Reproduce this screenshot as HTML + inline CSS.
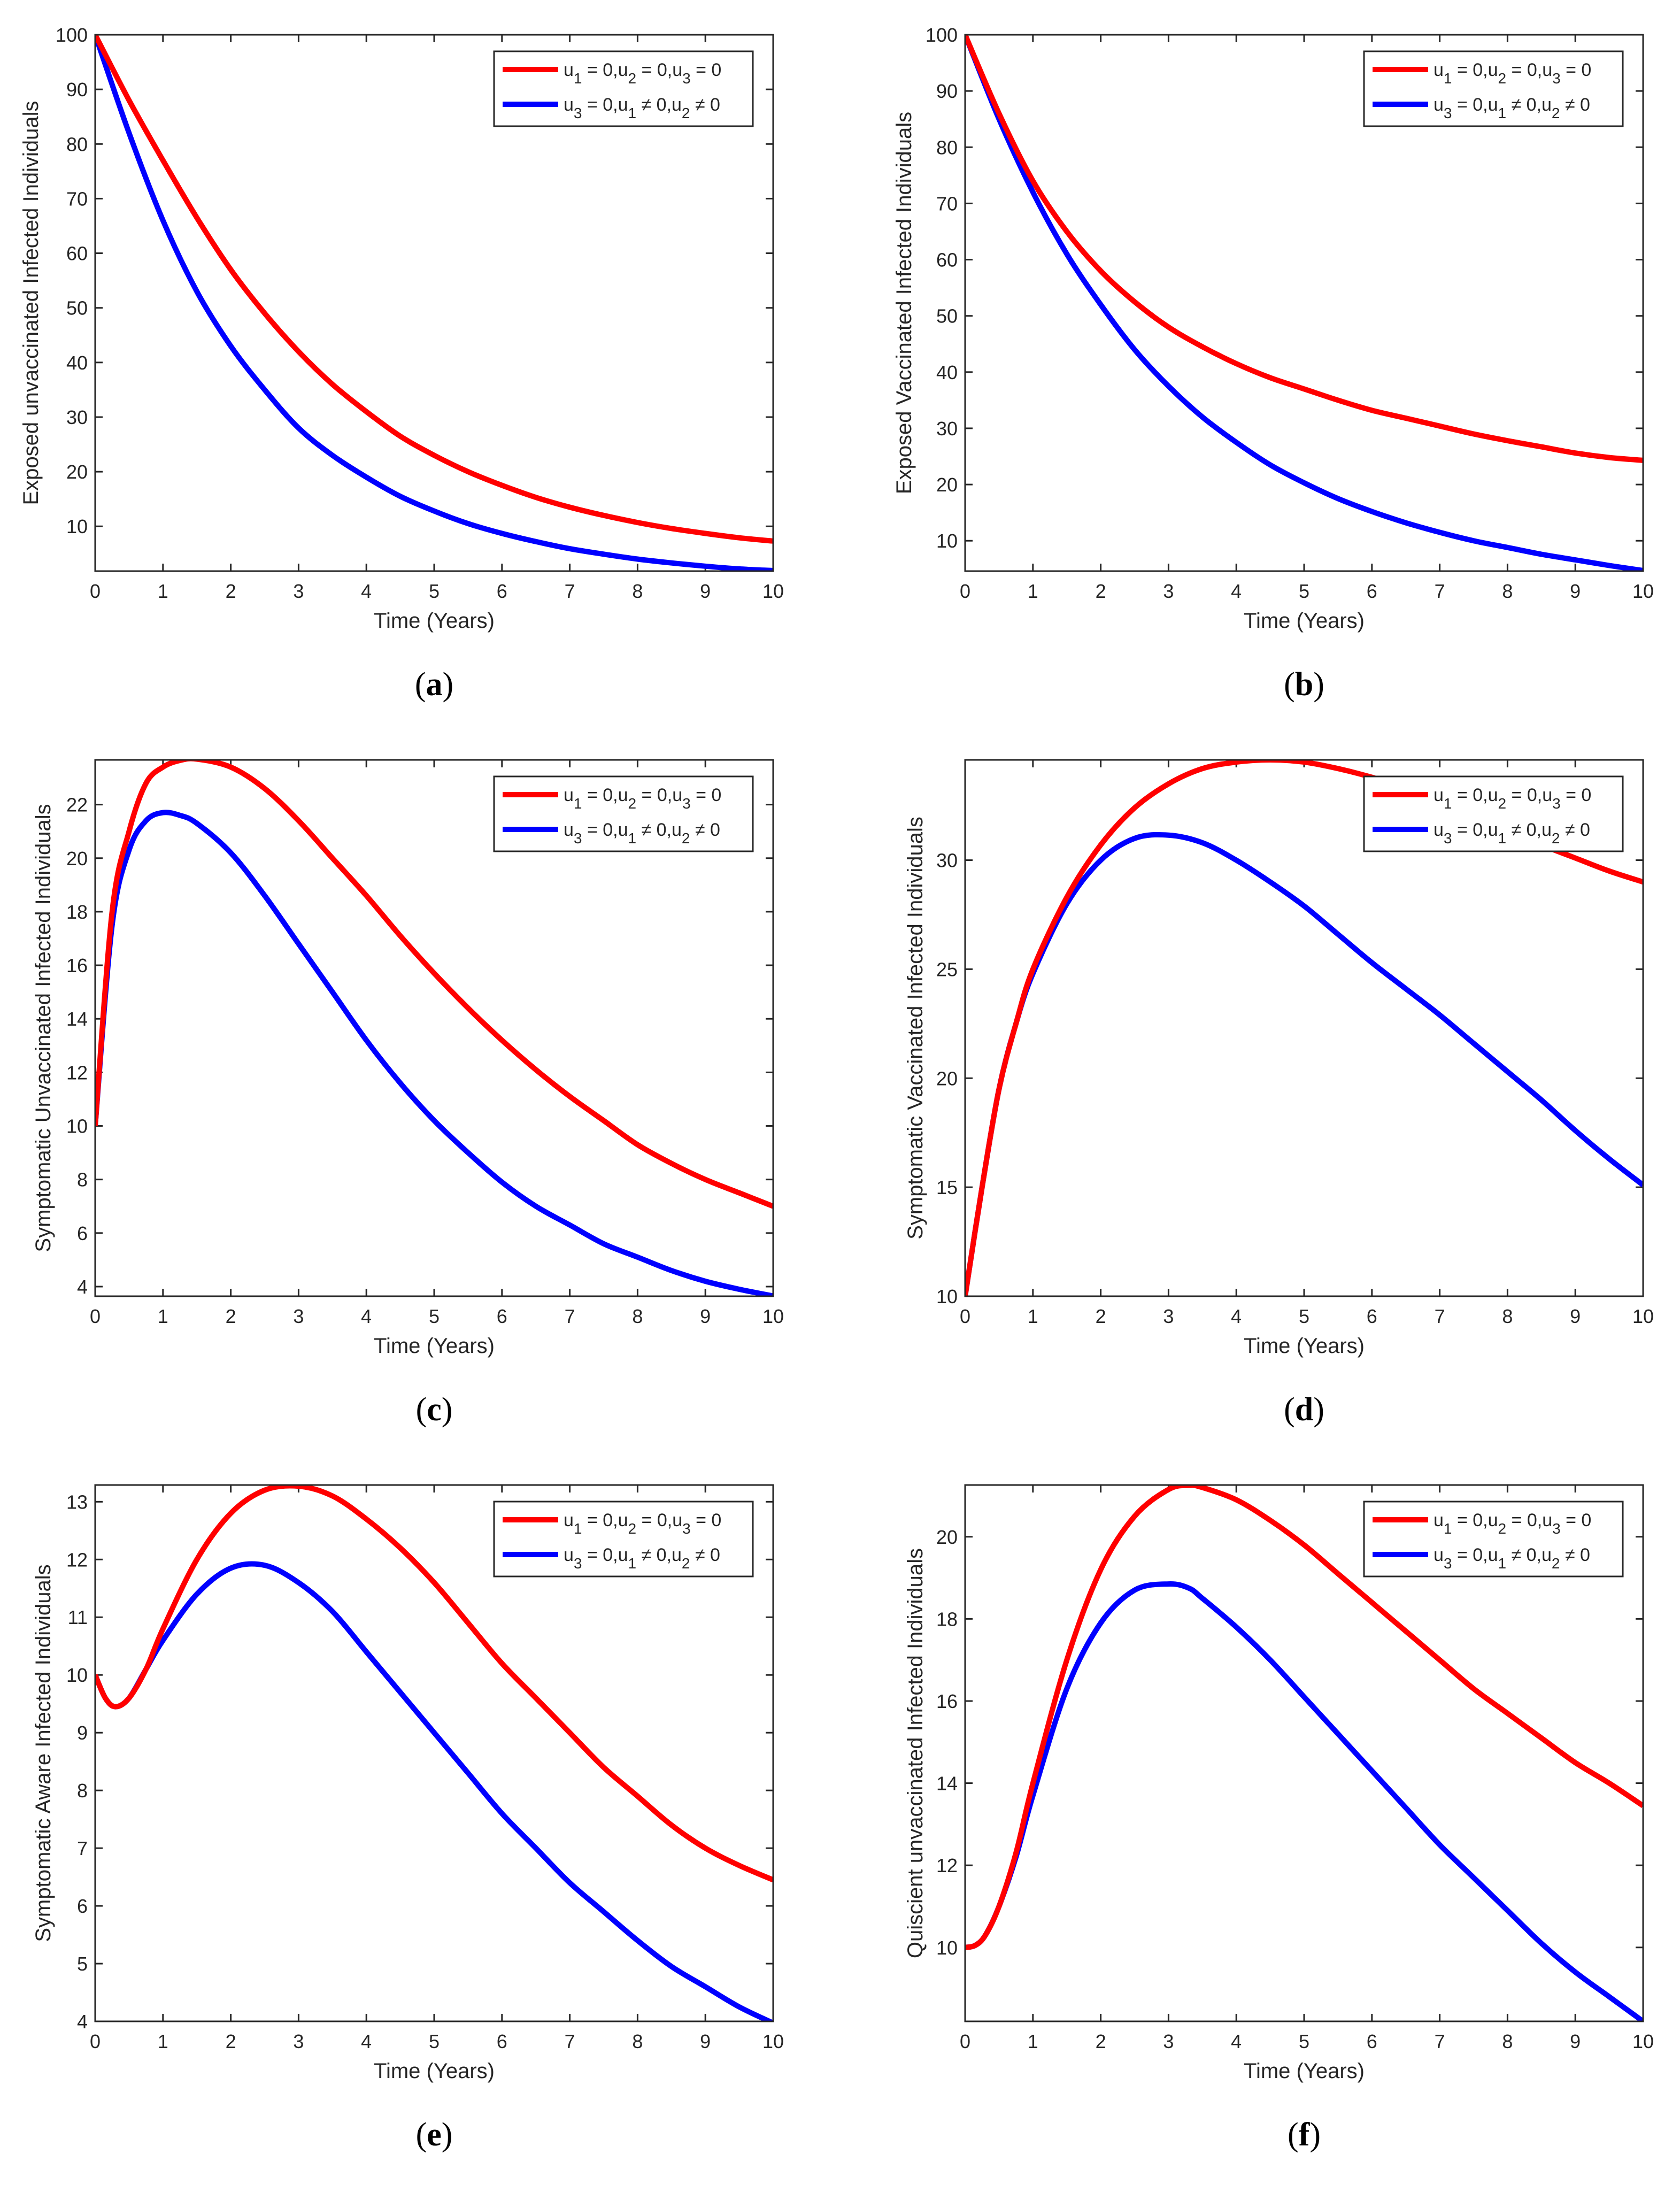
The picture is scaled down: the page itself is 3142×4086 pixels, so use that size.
<!DOCTYPE html>
<html><head><meta charset="utf-8">
<style>
html,body{margin:0;padding:0;background:#fff;}
svg{display:block;}
text{font-family:"Liberation Sans",sans-serif;fill:#262626;}
.cap{font-family:"Liberation Serif",serif;fill:#000;}
</style></head>
<body>
<svg id="fig" width="3142" height="4086" viewBox="0 0 3142 4086" xmlns="http://www.w3.org/2000/svg"></svg>
<script>
// ---- data ----
const tA = [0,0.5,1,1.5,2,2.5,3,3.5,4,4.5,5,5.5,6,6.5,7,7.5,8,8.5,9,9.5,10];
const aRed = [100,88,77,66.5,57,49,42,36,31,26.5,23,20,17.5,15.3,13.5,12,10.7,9.6,8.7,7.9,7.3];
const aBlue = [100,82,66,53,43,35,28,23,19,15.5,12.8,10.5,8.7,7.2,5.9,4.9,4.0,3.3,2.7,2.2,1.9];
const bRed = [100,86,74,65,58,52.5,48,44.5,41.5,39,37,35,33.2,31.8,30.4,29,27.8,26.7,25.6,24.8,24.3];
const bBlue = [100,85,72,61,52,44,37.5,32,27.5,23.5,20.3,17.5,15.2,13.2,11.5,10,8.8,7.6,6.6,5.6,4.7];
const tC = [0,0.25,0.5,0.75,1,1.25,1.5,2,2.5,3,3.5,4,4.5,5,5.5,6,6.5,7,7.5,8,8.5,9,9.5,10];
const cRed = [10,18,21,22.8,23.4,23.65,23.7,23.4,22.6,21.4,20,18.6,17.1,15.7,14.4,13.2,12.1,11.1,10.2,9.3,8.6,8,7.5,7.0];
const cBlue = [10,17.5,20.3,21.4,21.7,21.6,21.3,20.2,18.6,16.8,15,13.2,11.6,10.2,9,7.9,7,6.3,5.6,5.1,4.6,4.2,3.9,3.65];
const tD = [0,0.25,0.5,0.75,1,1.5,2,2.5,3,3.5,4,4.5,5,5.5,6,6.5,7,7.5,8,8.5,9,9.5,10];
const dRed = [10,15,19.5,22.5,25,28.3,30.7,32.4,33.5,34.2,34.5,34.6,34.5,34.2,33.8,33.3,32.7,32.1,31.4,30.7,30.1,29.5,29];
const dBlue = [10,15,19.5,22.5,24.8,28,30,31,31.15,30.8,30,29,27.9,26.6,25.3,24.1,22.9,21.6,20.3,19,17.6,16.3,15.1];
const tE = [0,0.15,0.3,0.5,0.75,1,1.5,2,2.5,3,3.5,4,4.5,5,5.5,6,6.5,7,7.5,8,8.5,9,9.5,10];
const eRed = [10,9.6,9.45,9.6,10.1,10.8,12,12.8,13.2,13.27,13.1,12.7,12.2,11.6,10.9,10.2,9.6,9,8.4,7.9,7.4,7,6.7,6.45];
const eBlue = [10,9.6,9.45,9.6,10.1,10.6,11.4,11.85,11.9,11.6,11.1,10.4,9.7,9,8.3,7.6,7,6.4,5.9,5.4,4.95,4.6,4.25,3.97];
const tF = [0,0.15,0.3,0.5,0.75,1,1.5,2,2.5,3,3.3,3.5,4,4.5,5,5.5,6,6.5,7,7.5,8,8.5,9,9.5,10];
const fRed = [10,10.05,10.3,11,12.3,14,17,19.2,20.5,21.15,21.25,21.2,20.9,20.4,19.8,19.1,18.4,17.7,17,16.3,15.7,15.1,14.5,14,13.45];
const fBlue = [10,10.05,10.3,11,12.2,13.7,16.3,17.9,18.7,18.85,18.75,18.5,17.8,17,16.1,15.2,14.3,13.4,12.5,11.7,10.9,10.1,9.4,8.8,8.2];
const xTicks = [0,1,2,3,4,5,6,7,8,9,10];
const aTicks = [10,20,30,40,50,60,70,80,90,100];
const bTicks = [10,20,30,40,50,60,70,80,90,100];
const cTicks = [4,6,8,10,12,14,16,18,20,22];
const dTicks = [10,15,20,25,30];
const eTicks = [4,5,6,7,8,9,10,11,12,13];
const fTicks = [10,12,14,16,18,20];

const NS = "http://www.w3.org/2000/svg";
const svg = document.getElementById('fig');
function mk(tag, attrs, parent, txt){
  const e = document.createElementNS(NS, tag);
  for (const k in attrs) e.setAttribute(k, attrs[k]);
  if (txt !== undefined) e.textContent = txt;
  (parent||svg).appendChild(e);
  return e;
}
function smooth(pts){
  let d = 'M' + pts[0][0].toFixed(1) + ',' + pts[0][1].toFixed(1);
  for (let i = 0; i < pts.length - 1; i++) {
    const p0 = pts[Math.max(0,i-1)], p1 = pts[i], p2 = pts[i+1], p3 = pts[Math.min(pts.length-1,i+2)];
    const c1x = p1[0] + (p2[0]-p0[0])/6, c1y = p1[1] + (p2[1]-p0[1])/6;
    const c2x = p2[0] - (p3[0]-p1[0])/6, c2y = p2[1] - (p3[1]-p1[1])/6;
    d += ' C' + c1x.toFixed(1)+','+c1y.toFixed(1)+' '+c2x.toFixed(1)+','+c2y.toFixed(1)+' '+p2[0].toFixed(1)+','+p2[1].toFixed(1);
  }
  return d;
}
const panels = [
  {id:'a', x0:178, y0:65, ymin:1.8, ymax:100, ticks:aTicks, t:tA, r:aRed, b:aBlue, title:'Exposed unvaccinated Infected Individuals', tx:57},
  {id:'b', x0:1805, y0:65, ymin:4.6, ymax:100, ticks:bTicks, t:tA, r:bRed, b:bBlue, title:'Exposed Vaccinated Infected Individuals', tx:1690},
  {id:'c', x0:178, y0:1421, ymin:3.64, ymax:23.67, ticks:cTicks, t:tC, r:cRed, b:cBlue, title:'Symptomatic Unvaccinated Infected Individuals', tx:80},
  {id:'d', x0:1805, y0:1421, ymin:10, ymax:34.6, ticks:dTicks, t:tD, r:dRed, b:dBlue, title:'Symptomatic Vaccinated Infected Individuals', tx:1711},
  {id:'e', x0:178, y0:2777, ymin:4, ymax:13.29, ticks:eTicks, t:tE, r:eRed, b:eBlue, title:'Symptomatic Aware Infected Individuals', tx:80},
  {id:'f', x0:1805, y0:2777, ymin:8.2, ymax:21.26, ticks:fTicks, t:tF, r:fRed, b:fBlue, title:'Quiscient unvaccinated Infected Individuals', tx:1711}
];
const W = 1268, H = 1003;
panels.forEach(p => {
  const g = mk('g', {});
  
  
  const sx = v => p.x0 + v / 10 * W;
  const sy = v => p.y0 + H - (v - p.ymin) / (p.ymax - p.ymin) * H;
  const clip = mk('clipPath', {id:'clip'+p.id}, g);
  mk('rect', {x:p.x0, y:p.y0, width:W, height:H}, clip);
  xTicks.forEach(v => {
    const x = sx(v);
    mk('line', {x1:x, x2:x, y1:p.y0+H, y2:p.y0+H-14, stroke:'#262626', 'stroke-width':3}, g);
    mk('line', {x1:x, x2:x, y1:p.y0, y2:p.y0+14, stroke:'#262626', 'stroke-width':3}, g);
    const t = mk('text', {x:x, y:p.y0+H+50, 'font-size':36, 'text-anchor':'middle'}, g, String(v));
    
    
  });
  p.ticks.forEach(v => {
    const y = sy(v);
    mk('line', {x1:p.x0, x2:p.x0+14, y1:y, y2:y, stroke:'#262626', 'stroke-width':3}, g);
    mk('line', {x1:p.x0+W, x2:p.x0+W-14, y1:y, y2:y, stroke:'#262626', 'stroke-width':3}, g);
    const t = mk('text', {x:p.x0-14, y:y+13, 'font-size':36, 'text-anchor':'end'}, g, String(v));
    
    
  });
  [[p.b,'#0000ff','blue-series'],[p.r,'#ff0000','red-series']].forEach(([vals,col,name]) => {
    const pts = vals.map((v,i) => [sx(p.t[i]), sy(v)]);
    const path = mk('path', {d:smooth(pts), fill:'none', stroke:col, 'stroke-width':10, 'stroke-linejoin':'round', 'clip-path':'url(#clip'+p.id+')'}, g);
    
    
  });
  mk('rect', {x:p.x0, y:p.y0, width:W, height:H, fill:'none', stroke:'#262626', 'stroke-width':3}, g);
  const xt = mk('text', {x:p.x0+W/2, y:p.y0+H+106, 'font-size':40, 'text-anchor':'middle'}, g, 'Time (Years)');
  
  
  const cy = p.y0 + H/2;
  const yt = mk('text', {x:p.tx, y:cy, 'font-size':40, 'text-anchor':'middle', transform:'rotate(-90 '+p.tx+' '+cy+') translate(0 14)'}, g, p.title);
  
  
  const lx = p.x0 + 746, ly = p.y0 + 31;
  const lg = mk('g', {}, g);
  
  
  mk('rect', {x:lx, y:ly, width:484, height:140, fill:'#fff', stroke:'#262626', 'stroke-width':3}, lg);
  const rows = [['#ff0000',[['u','1'],[' = 0,u','2'],[' = 0,u','3'],[' = 0','']]],
                ['#0000ff',[['u','3'],[' = 0,u','1'],[' \u2260 0,u','2'],[' \u2260 0','']]]];
  rows.forEach((row,i) => {
    const yy = ly + 34 + i*65;
    const le = mk('line', {x1:lx+16, x2:lx+120, y1:yy, y2:yy, stroke:row[0], 'stroke-width':10}, lg);
    
    
    const t = mk('text', {x:lx+130, y:yy+12, 'font-size':34}, lg);
    
    
    row[1].forEach(([main,sub], j) => {
      mk('tspan', j ? {dy:-14} : {}, t, main);
      if (sub) mk('tspan', {dy:14, 'font-size':28}, t, sub);
    });
  });
  const cap = mk('text', {x:p.x0+W/2, y:p.y0+H+232, 'font-size':62, 'text-anchor':'middle', class:'cap'}, g);
  
  
  mk('tspan', {}, cap, '(');
  mk('tspan', {'font-weight':'bold'}, cap, p.id);
  mk('tspan', {}, cap, ')');
});
</script>
</body></html>
